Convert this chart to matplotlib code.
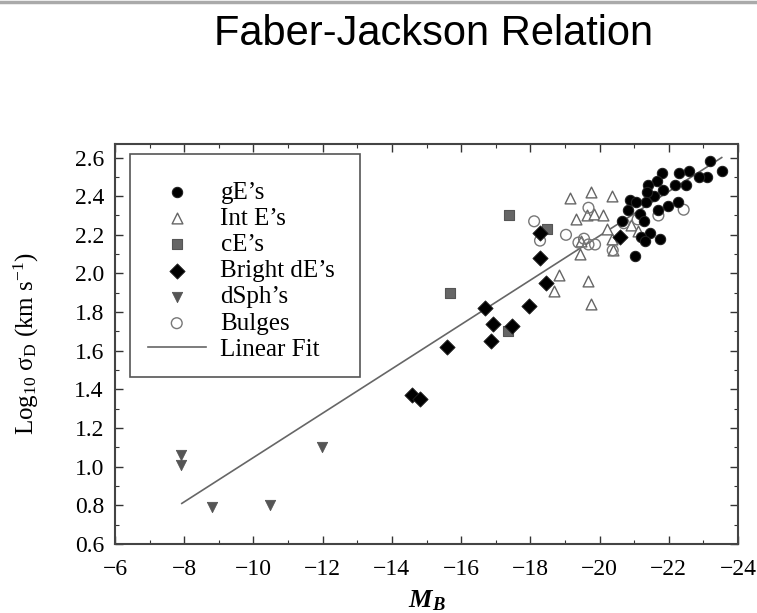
import matplotlib
matplotlib.use("Agg")
import matplotlib.pyplot as plt
import numpy as np
from matplotlib.ticker import MultipleLocator, FormatStrFormatter
from matplotlib.patches import Rectangle
from matplotlib.lines import Line2D

plt.rcParams['font.family'] = ['Liberation Serif', 'DejaVu Serif']
plt.rcParams['mathtext.fontset'] = 'custom'
plt.rcParams['mathtext.rm'] = 'Liberation Serif'
plt.rcParams['mathtext.it'] = 'Liberation Serif:italic'
plt.rcParams['mathtext.bf'] = 'Liberation Serif:bold'
plt.rcParams['mathtext.bfit'] = 'Liberation Serif:italic:bold'

# ---------------- data ----------------
gE_M = [-23.53, -23.18, -23.10, -22.86, -22.59, -22.30, -22.49, -22.18, -21.80, -21.65,
        -21.41, -21.83, -21.56, -21.37, -20.88, -21.05, -20.81, -21.17, -21.35, -21.70,
        -21.99, -22.28, -20.64, -21.27, -21.46, -21.20, -21.32, -21.75, -21.03]
gE_s = [2.53, 2.58, 2.50, 2.50, 2.53, 2.52, 2.46, 2.46, 2.52, 2.48,
        2.46, 2.43, 2.40, 2.42, 2.38, 2.37, 2.33, 2.31, 2.37, 2.33,
        2.35, 2.37, 2.27, 2.27, 2.21, 2.19, 2.17, 2.18, 2.09]

intE_M = [-19.15, -19.76, -20.35, -19.32, -19.63, -19.84, -20.09, -19.44, -18.83, -18.69,
          -19.68, -19.75, -20.35, -20.40, -19.45, -20.21, -20.90, -21.10]
intE_s = [2.39, 2.42, 2.40, 2.28, 2.30, 2.31, 2.30, 2.10, 1.99, 1.91,
          1.96, 1.84, 2.18, 2.12, 2.17, 2.23, 2.25, 2.22]

cE_M = [-15.68, -17.37, -18.47, -17.35]
cE_s = [1.90, 2.30, 2.23, 1.70]

bdE_M = [-14.57, -14.80, -15.59, -16.68, -16.93, -16.87, -17.48, -17.97, -18.46, -18.27,
         -18.27, -20.60]
bdE_s = [1.37, 1.35, 1.62, 1.82, 1.74, 1.65, 1.73, 1.83, 1.95, 2.08,
         2.21, 2.19]

dSph_M = [-7.90, -7.90, -8.79, -10.48, -11.97]
dSph_s = [1.06, 1.01, 0.79, 0.80, 1.10]

bul_M = [-18.11, -18.28, -19.03, -19.68, -19.55, -19.39, -19.68, -19.87, -20.38, -21.70,
         -22.43, -21.10, -20.70]
bul_s = [2.27, 2.17, 2.20, 2.34, 2.18, 2.16, 2.15, 2.15, 2.12, 2.30,
         2.33, 2.28, 2.26]

fit_M = [-7.93, -23.53]
fit_s = [0.81, 2.60]

xticks = [-6, -8, -10, -12, -14, -16, -18, -20, -22, -24]
yticks = [0.6, 0.8, 1.0, 1.2, 1.4, 1.6, 1.8, 2.0, 2.2, 2.4, 2.6]

# ---------------- figure ----------------
fig = plt.figure(figsize=(7.57, 6.13), dpi=100)
ax = fig.add_axes([115/757, 1-544/613, 623/757, 400/613])

h1 = ax.scatter(gE_M, gE_s, s=55, marker='o', c='black', edgecolors='#222222', linewidths=0.8, zorder=4, label="gE\u2019s")
h2 = ax.scatter(intE_M, intE_s, s=60, marker='^', facecolors='white', edgecolors='#666666', linewidths=1.0, zorder=3, label="Int E\u2019s")
h3 = ax.scatter(cE_M, cE_s, s=55, marker='s', c='#666666', edgecolors='#555555', linewidths=0.8, zorder=3, label="cE\u2019s")
h4 = ax.scatter(bdE_M, bdE_s, s=60, marker='D', c='black', edgecolors='#222222', linewidths=0.6, zorder=4, label="Bright dE\u2019s")
h5 = ax.scatter(dSph_M, dSph_s, s=55, marker='v', c='#555555', edgecolors='#555555', linewidths=0.6, zorder=3, label="dSph\u2019s")
h6 = ax.scatter(bul_M, bul_s, s=60, marker='o', facecolors='none', edgecolors='#777777', linewidths=1.0, zorder=3, label="Bulges")
h7, = ax.plot(fit_M, fit_s, color='#666666', lw=1.2, zorder=2, label="Linear Fit")

ax.set_xlim(-6, -24)
ax.set_ylim(0.6, 2.67)
ax.set_xticks(xticks)
ax.set_yticks(yticks)
ax.xaxis.set_minor_locator(MultipleLocator(1))
ax.yaxis.set_minor_locator(MultipleLocator(0.1))
ax.yaxis.set_major_formatter(FormatStrFormatter('%.1f'))
ax.set_xticklabels(['\u2212%d' % abs(v) for v in xticks])
ax.tick_params(which='both', direction='in', top=True, right=True, colors='#333333', labelcolor='black')
ax.tick_params(which='major', length=6, width=1.0, labelsize=17)
ax.tick_params(axis='y', which='major', pad=8)
ax.tick_params(axis='x', which='major', pad=11)
ax.tick_params(which='minor', length=3, width=0.8)
for sp in ax.spines.values():
    sp.set_color('#444444')
    sp.set_linewidth(1.5)

ax.set_xlabel(r'$\mathbfit{M}_{\mathbfit{B}}$', fontsize=19, labelpad=6)
ax.set_ylabel(r'Log$_{10}$ $\mathrm{\sigma}_{\mathrm{D}}$ (km s$^{-1}$)', fontsize=18, labelpad=24)

# legend
box = Rectangle((15/623, (544-377)/400), 230/623, 223/400, transform=ax.transAxes,
                facecolor='white', edgecolor='#555555', lw=1.2, zorder=5)
ax.add_patch(box)
leg = ax.legend(handles=[h1, h2, h3, h4, h5, h6, h7], loc='upper left',
                bbox_to_anchor=(33/623, (544-181)/400), frameon=False, fontsize=18,
                labelspacing=0.15, handlelength=2.3, handletextpad=0.6, borderpad=0,
                borderaxespad=0, scatterpoints=1)
leg.set_zorder(6)

fig.text(434/757, 1-34/613, 'Faber-Jackson Relation', fontsize=30,
         family=['Liberation Sans', 'DejaVu Sans'], ha='center', va='center')
fig.add_artist(Line2D([0, 1], [1-1.5/613, 1-1.5/613], transform=fig.transFigure, color='#aaaaaa', lw=2.5))

fig.savefig('out.png', dpi=100)
